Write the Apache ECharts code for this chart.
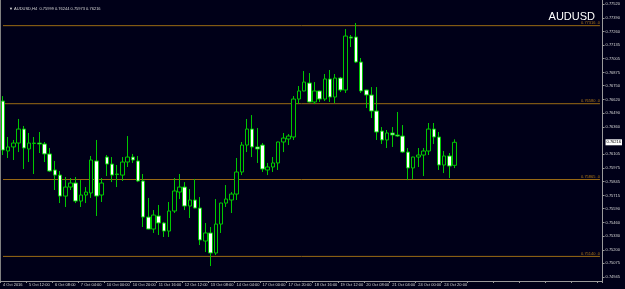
<!DOCTYPE html>
<html><head><meta charset="utf-8">
<script src="https://cdn.jsdelivr.net/npm/echarts@6/dist/echarts.min.js"></script>
<style>html,body{margin:0;padding:0;background:#000018;}#c{width:625px;height:289px;}</style>
</head><body><div id="c"></div>
<script>
const categories = [
'4 Oct 16:00','4 Oct 20:00',
'5 Oct 00:00','5 Oct 04:00','5 Oct 08:00','5 Oct 12:00','5 Oct 16:00','5 Oct 20:00',
'6 Oct 00:00','6 Oct 04:00','6 Oct 08:00','6 Oct 12:00','6 Oct 16:00','6 Oct 20:00',
'7 Oct 00:00','7 Oct 04:00','7 Oct 08:00','7 Oct 12:00','7 Oct 16:00','7 Oct 20:00',
'10 Oct 00:00','10 Oct 04:00','10 Oct 08:00','10 Oct 12:00','10 Oct 16:00','10 Oct 20:00',
'11 Oct 00:00','11 Oct 04:00','11 Oct 08:00','11 Oct 12:00','11 Oct 16:00','11 Oct 20:00',
'12 Oct 00:00','12 Oct 04:00','12 Oct 08:00','12 Oct 12:00','12 Oct 16:00','12 Oct 20:00',
'13 Oct 00:00','13 Oct 04:00','13 Oct 08:00','13 Oct 12:00','13 Oct 16:00','13 Oct 20:00',
'14 Oct 00:00','14 Oct 04:00','14 Oct 08:00','14 Oct 12:00','14 Oct 16:00','14 Oct 20:00',
'17 Oct 00:00','17 Oct 04:00','17 Oct 08:00','17 Oct 12:00','17 Oct 16:00','17 Oct 20:00',
'18 Oct 00:00','18 Oct 04:00','18 Oct 08:00','18 Oct 12:00','18 Oct 16:00','18 Oct 20:00',
'19 Oct 00:00','19 Oct 04:00','19 Oct 08:00','19 Oct 12:00','19 Oct 16:00','19 Oct 20:00',
'20 Oct 00:00','20 Oct 04:00','20 Oct 08:00','20 Oct 12:00','20 Oct 16:00','20 Oct 20:00',
'21 Oct 00:00','21 Oct 04:00','21 Oct 08:00','21 Oct 12:00','21 Oct 16:00','21 Oct 20:00',
'24 Oct 00:00','24 Oct 04:00','24 Oct 08:00','24 Oct 12:00','24 Oct 16:00','24 Oct 20:00',
'25 Oct 00:00','25 Oct 04:00'
];
const tickLabels = ['4 Oct 2016','5 Oct 12:00','6 Oct 08:00','7 Oct 04:00','10 Oct 00:00','10 Oct 20:00','11 Oct 16:00','12 Oct 12:00','13 Oct 08:00','14 Oct 04:00','17 Oct 00:00','17 Oct 20:00','18 Oct 16:00','19 Oct 12:00','20 Oct 08:00','21 Oct 04:00','24 Oct 00:00','24 Oct 20:00'];
const opens = [0.76605,0.76134,0.76172,0.76209,0.76341,0.76153,0.76205,0.76209,0.76200,0.76106,
0.75955,0.75907,0.75709,0.75794,0.75832,0.75662,0.75719,0.75738,0.76040,0.75719,
0.76077,0.76011,0.75912,0.75907,0.76030,0.76077,0.76040,0.75851,0.75511,0.75398,
0.75521,0.75455,0.75379,0.75568,0.75747,0.75794,0.75615,0.75672,0.75596,0.75285,
0.75361,0.75172,0.75445,0.75643,0.75672,0.75728,0.75936,0.76190,0.76341,0.76172,
0.76190,0.75955,0.75983,0.76021,0.76219,0.76247,0.76266,0.76624,0.76700,0.76775,
0.76596,0.76700,0.76624,0.76813,0.76643,0.76822,0.76709,0.77209,0.77209,0.76973,
0.76709,0.76662,0.76511,0.76322,0.76238,0.76304,0.76285,0.76275,0.76124,0.75974,
0.76077,0.76096,0.76134,0.76341,0.76266,0.76002,0.76087,0.75999];
const closes = [0.76143,0.76172,0.76209,0.76341,0.76162,0.76209,0.76209,0.76200,0.76106,0.75945,
0.75907,0.75709,0.75794,0.75832,0.75662,0.75719,0.75747,0.76049,0.75709,0.75832,
0.76011,0.75907,0.75917,0.76030,0.76077,0.76049,0.75851,0.75511,0.75398,0.75530,
0.75455,0.75379,0.75568,0.75757,0.75794,0.75615,0.75672,0.75596,0.75295,0.75361,
0.75172,0.75445,0.75643,0.75681,0.75728,0.75936,0.76190,0.76341,0.76172,0.76153,
0.75964,0.75983,0.76021,0.76219,0.76256,0.76275,0.76624,0.76700,0.76784,0.76596,
0.76700,0.76624,0.76813,0.76643,0.76822,0.76709,0.77218,0.77199,0.76973,0.76700,
0.76662,0.76511,0.76313,0.76238,0.76304,0.76285,0.76275,0.76124,0.75974,0.76077,
0.76096,0.76134,0.76341,0.76266,0.76002,0.76087,0.75992,0.76216];
const lows = [0.76096,0.76068,0.76049,0.76124,0.75964,0.76030,0.75917,0.76115,0.76030,0.75936,
0.75766,0.75643,0.75606,0.75766,0.75643,0.75606,0.75643,0.75691,0.75521,0.75653,
0.75898,0.75841,0.75794,0.75851,0.75983,0.76021,0.75841,0.75417,0.75395,0.75361,
0.75342,0.75323,0.75323,0.75549,0.75681,0.75577,0.75502,0.75593,0.75247,0.75181,
0.75049,0.75153,0.75361,0.75606,0.75549,0.75672,0.75907,0.76124,0.76077,0.76021,
0.75936,0.75907,0.75936,0.75955,0.76124,0.76190,0.76238,0.76577,0.76697,0.76593,
0.76577,0.76596,0.76605,0.76596,0.76586,0.76690,0.76681,0.77115,0.76964,0.76681,
0.76539,0.76445,0.76238,0.76200,0.76162,0.76172,0.76266,0.76115,0.75860,0.75870,
0.75983,0.75898,0.76096,0.76200,0.75955,0.75926,0.75879,0.75973];
const highs = [0.76652,0.76266,0.76238,0.76436,0.76370,0.76304,0.76266,0.76313,0.76219,0.76162,
0.76040,0.75945,0.75889,0.75879,0.75889,0.75860,0.75794,0.76087,0.76238,0.75879,
0.76096,0.76077,0.76002,0.76077,0.76275,0.76106,0.76087,0.75917,0.75691,0.75577,
0.75625,0.75464,0.75653,0.75879,0.75917,0.75841,0.75775,0.75870,0.75700,0.75455,
0.75417,0.75681,0.75646,0.75813,0.75747,0.76068,0.76219,0.76436,0.76473,0.76351,
0.76209,0.76021,0.76077,0.76222,0.76304,0.76294,0.76652,0.76747,0.76888,0.76869,
0.76784,0.76703,0.76860,0.76898,0.76860,0.76832,0.77284,0.77228,0.77341,0.77011,
0.76712,0.76737,0.76737,0.76360,0.76332,0.76360,0.76502,0.76379,0.76162,0.76080,
0.76162,0.76162,0.76398,0.76398,0.76313,0.76134,0.76115,0.76244];
const yTickValues = [0.77520,0.77390,0.77260,0.77135,0.77005,0.76875,0.76750,0.76620,0.76490,0.76360,0.76105,0.75975,0.75845,0.75715,0.75590,0.75460,0.75330,0.75200,0.75075,0.74945];
const levelLines = [0.77316,0.76580,0.75865,0.75140];
const lastPrice = 0.76216;
const header = '\u25BC AUDUSD,H4  0.75999 0.76244 0.75973 0.76216';
const symbolName = 'AUDUSD';

const BG = '#000018';
const GREEN = '#00c800';
const LEVEL = '#9a6a14';
const FONT = 'Liberation Sans';
const N_SLOTS = 116;
const xData = categories.concat(new Array(N_SLOTS - categories.length).fill(''));
const candleData = opens.map((o,i)=>[o, closes[i], lows[i], highs[i]]);

const levelSeries = levelLines.map(v=>({
  type:'line', silent:true, z:1, symbol:'circle', symbolSize:0, showSymbol:true,
  color: LEVEL,
  lineStyle:{color:LEVEL, width:1, type:'solid', opacity:1},
  itemStyle:{color:LEVEL},
  emphasis:{disabled:true},
  data:[
    {value:[0, v]},
    {value:[N_SLOTS-1, v],
     label:{show:true, position:'top', align:'right', distance:1, formatter: v.toFixed(5)+' .0', color:'#b07818', fontSize:4, fontFamily:FONT}}
  ]
}));

const chart = echarts.init(document.getElementById('c'), null, {renderer:'canvas'});
chart.setOption({
  backgroundColor: BG,
  animation:false,
  title:[
    {text: header, left:4, top:2, textStyle:{color:'#d8d8d8', fontSize:4, fontWeight:'normal', fontFamily:FONT}},
    {text: symbolName, right:25, top:6, textStyle:{color:'#ffffff', fontSize:11, fontWeight:'normal', fontFamily:FONT}}
  ],
  graphic:[{type:'line', shape:{x1:0.5,y1:0,x2:0.5,y2:281}, style:{stroke:'#808080', lineWidth:1}, silent:true}],
  grid:{left:0, right:20, top:0, bottom:8, show:false},
  xAxis:{
    type:'category', data:xData, boundaryGap:true,
    axisLine:{show:true, lineStyle:{color:'#9a9a9a'}},
    axisTick:{show:true, interval:4, length:2, lineStyle:{color:'#9a9a9a'}},
    axisLabel:{show:true, interval:4, color:'#d8d8d8', fontSize:4, margin:2, align:'left', fontFamily:FONT,
      formatter:(v,i)=> (i%5===0 && tickLabels[i/5]) ? tickLabels[i/5] : ''},
    splitLine:{show:false}
  },
  yAxis:{
    type:'value', position:'right', min:0.74908, max:0.77558,
    axisLine:{show:true, lineStyle:{color:'#9a9a9a'}},
    axisTick:{show:true, length:2, customValues:yTickValues, lineStyle:{color:'#9a9a9a'}},
    axisLabel:{show:true, customValues:yTickValues.concat([lastPrice]), color:'#d8d8d8', fontSize:4, margin:3, fontFamily:FONT,
      formatter:v=> Math.abs(v-lastPrice)<1e-7 ? '{cur|'+v.toFixed(5)+'}' : v.toFixed(5),
      rich:{cur:{color:'#000000', backgroundColor:'#ffffff', fontSize:4, padding:[1,1,1,1], fontFamily:FONT}}},
    splitLine:{show:false}
  },
  series: levelSeries.concat([
    {type:'candlestick', data:candleData, barWidth:4, z:3,
     itemStyle:{color:BG, color0:'#ffffff', borderColor:GREEN, borderColor0:GREEN, borderWidth:1}}
  ])
});
</script></body></html>
